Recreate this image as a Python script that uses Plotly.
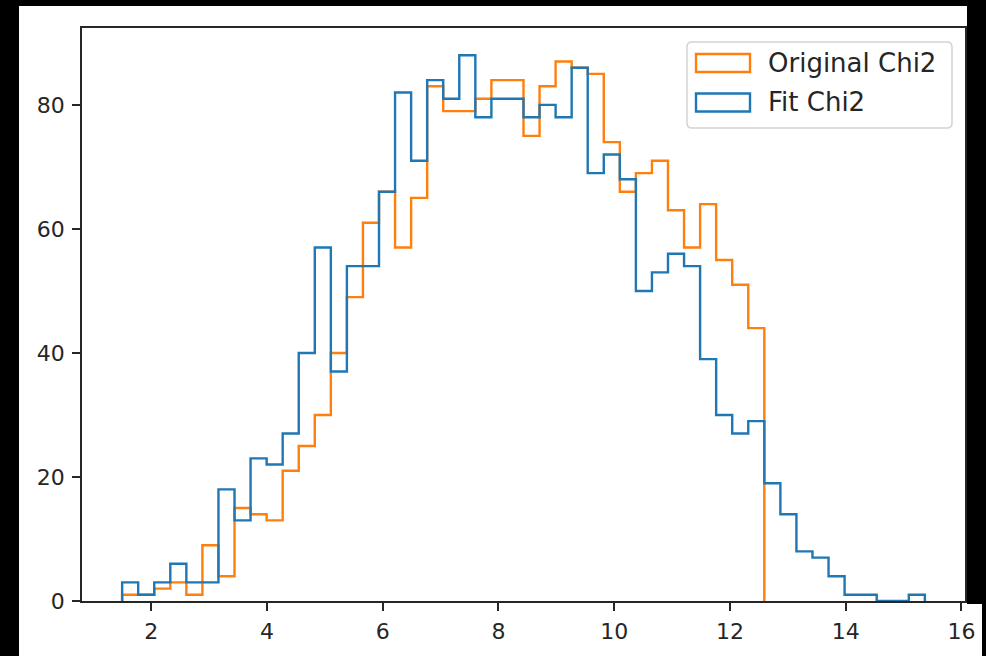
import plotly.graph_objects as go

# ---- data ----
BIN_START = 1.498
BIN_WIDTH = 0.2774
original_counts = [1, 1, 2, 3, 1, 9, 4, 15, 14, 13, 21, 25, 30, 40, 49, 61, 66, 57, 65, 83,
                   79, 79, 81, 84, 84, 75, 83, 87, 86, 85, 74, 66, 69, 71, 63, 57, 64, 55, 51, 44]
fit_counts = [3, 1, 3, 6, 3, 3, 18, 13, 23, 22, 27, 40, 57, 37, 54, 54, 66, 82, 71, 84,
              81, 88, 78, 81, 81, 78, 80, 78, 86, 69, 72, 68, 50, 53, 56, 54, 39, 30, 27, 29,
              19, 14, 8, 7, 4, 1, 1, 0, 0, 1]
series_names = ["Original Chi2", "Fit Chi2"]
x_ticks = [2, 4, 6, 8, 10, 12, 14, 16]
y_ticks = [0, 20, 40, 60, 80]

ORANGE = "#ff7f0e"
BLUE = "#1f77b4"
TEXT = "#262626"


def step_xy(counts):
    edges = [BIN_START + i * BIN_WIDTH for i in range(len(counts) + 1)]
    xs = [edges[0]] + edges[:-1] + [edges[-1]]
    ys = [0] + list(counts) + [0]
    return xs, ys


fig = go.Figure()
for counts, color, name in [(original_counts, ORANGE, series_names[0]),
                            (fit_counts, BLUE, series_names[1])]:
    xs, ys = step_xy(counts)
    fig.add_trace(go.Scatter(x=xs, y=ys, mode="lines", line_shape="hv",
                             line=dict(color=color, width=2.4), name=name,
                             showlegend=False, hoverinfo="skip"))

# data range with matplotlib-like 5% margins
n_fit = len(fit_counts)
x_lo = BIN_START
x_hi = BIN_START + n_fit * BIN_WIDTH
pad = 0.05 * (x_hi - x_lo)
y_hi = max(max(original_counts), max(fit_counts)) * 1.05

W, H = 986, 656
L, R, T, B = 82, 965, 28, 601


def px(p):
    return (p - L) / (R - L)


def py(p):
    return (B - p) / (B - T)


shapes = []
# white figure area on black surround
shapes.append(dict(type="rect", xref="paper", yref="paper",
                   x0=px(19), x1=px(967), y0=py(657), y1=py(6),
                   fillcolor="white", line=dict(width=0), layer="below"))
shapes.append(dict(type="rect", xref="paper", yref="paper",
                   x0=px(966), x1=px(982), y0=py(657), y1=py(604),
                   fillcolor="white", line=dict(width=0), layer="below"))

# legend box (rounded)
lx0, lx1, ly0, ly1, r = 687, 952, 42, 128, 5
path = (f"M {px(lx0 + r)} {py(ly0)} L {px(lx1 - r)} {py(ly0)} "
        f"Q {px(lx1)} {py(ly0)} {px(lx1)} {py(ly0 + r)} "
        f"L {px(lx1)} {py(ly1 - r)} Q {px(lx1)} {py(ly1)} {px(lx1 - r)} {py(ly1)} "
        f"L {px(lx0 + r)} {py(ly1)} Q {px(lx0)} {py(ly1)} {px(lx0)} {py(ly1 - r)} "
        f"L {px(lx0)} {py(ly0 + r)} Q {px(lx0)} {py(ly0)} {px(lx0 + r)} {py(ly0)} Z")
shapes.append(dict(type="path", xref="paper", yref="paper", path=path,
                   fillcolor="rgba(255,255,255,0.85)", line=dict(color="#d4d4d4", width=1.5),
                   layer="above"))

annotations = []
for i, (name, color) in enumerate(zip(series_names, [ORANGE, BLUE])):
    cy = 63 + i * 39.5
    shapes.append(dict(type="rect", xref="paper", yref="paper",
                       x0=px(696), x1=px(750), y0=py(cy + 9), y1=py(cy - 9),
                       fillcolor="rgba(0,0,0,0)", line=dict(color=color, width=2.4),
                       layer="above"))
    annotations.append(dict(xref="paper", yref="paper", x=px(766), y=py(cy),
                            text=name, showarrow=False, xanchor="left", yanchor="middle",
                            font=dict(family="DejaVu Sans", size=26, color=TEXT)))

axis_common = dict(showline=True, linecolor=TEXT, linewidth=1.8, mirror=True,
                   ticks="outside", ticklen=8, tickwidth=1.8, tickcolor=TEXT,
                   showgrid=False, zeroline=False,
                   tickfont=dict(family="DejaVu Sans", size=22, color=TEXT))

fig.update_layout(
    width=W, height=H,
    margin=dict(l=L, r=W - R, t=T, b=H - B),
    paper_bgcolor="black", plot_bgcolor="white",
    xaxis=dict(range=[x_lo - pad, x_hi + pad], tickvals=x_ticks,
               ticktext=[str(v) for v in x_ticks], ticklabelstandoff=2, **axis_common),
    yaxis=dict(range=[0, y_hi], tickvals=y_ticks,
               ticktext=[str(v) for v in y_ticks], ticklabelstandoff=3, **axis_common),
    shapes=shapes, annotations=annotations, showlegend=False,
)

fig.write_html("out.html", config={"displayModeBar": False},
               post_script="document.body.style.margin='0';document.body.style.background='black';")
